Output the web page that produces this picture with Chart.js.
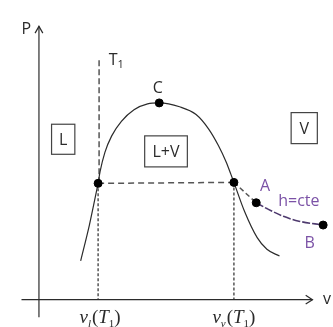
<!DOCTYPE html>
<html>
<head>
<meta charset="utf-8">
<script src="https://cdn.jsdelivr.net/npm/chart.js@4.4.1/dist/chart.umd.min.js"></script>
<style>
  html, body { margin: 0; padding: 0; background: #fff; }
  #wrap { width: 333px; height: 327px; }
</style>
</head>
<body>
<div id="wrap"><canvas id="c" width="333" height="327"></canvas></div>
<script>
// --- data (v, P in arbitrary diagram units) ---
const liqV  = [4.3, 5.2, 6.1];               // compressed-liquid branch below the dome
const liqP  = [4.0, 7.7, 12.0];
const domeV = [6.1, 6.3, 6.8, 7.5, 8.5, 9.8, 11.2, 12.4, 14.5, 16.2, 17.5, 18.5, 19.3, 19.8, 20.1];
const domeP = [12.0, 13.2, 15.2, 16.9, 18.4, 19.6, 20.2, 20.3, 19.9, 19.1, 17.6, 15.9, 14.2, 12.9, 12.1];
const vapV  = [20.1, 21.2, 22.5, 23.5, 24.8]; // isotherm continuing in vapour region
const vapP  = [12.1, 9.1, 6.4, 5.2, 4.5];
const tieV  = [6.1, 20.1];                    // liquid-vapour tie line at T1
const tieP  = [12.0, 12.1];
const t1V   = [6.2, 6.2];                     // T1 isotherm, dashed part
const t1P   = [24.7, 12.0];
const dropLV = [6.1, 6.1];
const dropLP = [12.0, 0];
const dropVV = [20.1, 20.1];
const dropVP = [12.1, 0];
const toAV  = [20.1, 22.4];
const toAP  = [12.1, 10.0];
const hV    = [22.4, 23.5, 25.2, 26.8, 29.3]; // h = cte line A -> B
const hP    = [10.0, 9.4, 8.6, 8.1, 7.7];
const ptV   = [6.1, 12.4, 20.1, 22.4, 29.3];  // marked states
const ptP   = [12.0, 20.3, 12.1, 10.0, 7.7];

const xy = (vs, ps) => vs.map((v, i) => ({ x: v, y: ps[i] }));

const INK = '#2b2b2b';
const DASH = '#555';
const PURPLE = '#7b52a6';
const PURPLE_LINE = '#4e3a6e';
const SANS = '"Open Sans", "Noto Sans", sans-serif';

// region boxes and free labels (diagram units)
const boxes = [
  { text: 'L',   v0: 1.3,  v1: 3.7,  p0: 15.0, p1: 18.1 },
  { text: 'L+V', v0: 10.9, v1: 15.3, p0: 13.7, p1: 16.9 },
  { text: 'V',   v0: 26.0, v1: 28.7, p0: 16.1, p1: 19.3 }
];
const labels = [
  { text: 'P',     v: -1.3, p: 27.9, color: INK },
  { text: 'C',     v: 12.25, p: 21.8, color: INK },
  { text: 'A',     v: 23.3, p: 11.7, color: PURPLE },
  { text: 'h=cte', v: 26.8, p: 10.1, color: PURPLE },
  { text: 'B',     v: 27.9, p: 5.8,  color: PURPLE },
  { text: 'v',     v: 29.7, p: 0,    color: INK }
];

function line(vs, ps, color, dash, width) {
  return {
    data: xy(vs, ps), showLine: true, borderColor: color, borderWidth: width || 1.2,
    borderDash: dash || [], pointRadius: 0, fill: false, clip: false
  };
}

function drawParts(ctx, cx, baseY, parts) {
  let w = 0;
  parts.forEach(p => { ctx.font = p.f; w += ctx.measureText(p.t).width + (p.gap || 0); });
  let x = cx - w / 2;
  parts.forEach(p => {
    ctx.font = p.f;
    ctx.fillText(p.t, x, baseY + (p.dy || 0));
    x += ctx.measureText(p.t).width + (p.gap || 0);
  });
}

const annot = {
  id: 'annot',
  afterDatasetsDraw(chart) {
    const { ctx, scales: { x, y } } = chart;
    ctx.save();
    ctx.textAlign = 'center';
    ctx.textBaseline = 'middle';
    boxes.forEach(b => {
      const l = x.getPixelForValue(b.v0), r = x.getPixelForValue(b.v1);
      const t = y.getPixelForValue(b.p1), bt = y.getPixelForValue(b.p0);
      ctx.strokeStyle = '#444';
      ctx.lineWidth = 1.2;
      ctx.strokeRect(l, t, r - l, bt - t);
      ctx.fillStyle = INK;
      ctx.font = '16px ' + SANS;
      ctx.fillText(b.text, (l + r) / 2, (t + bt) / 2 + 1);
    });
    labels.forEach(lb => {
      ctx.fillStyle = lb.color;
      ctx.font = '16px ' + SANS;
      ctx.fillText(lb.text, x.getPixelForValue(lb.v), y.getPixelForValue(lb.p));
    });
    // T1 label
    ctx.textAlign = 'left';
    ctx.fillStyle = INK;
    const tx = x.getPixelForValue(7.2), ty = y.getPixelForValue(24.7);
    ctx.font = '16px ' + SANS;
    ctx.fillText('T', tx, ty);
    const tw = ctx.measureText('T').width;
    ctx.font = '11px ' + SANS;
    ctx.fillText('1', tx + tw, ty + 5);
    // specific volume labels under the axis
    ctx.textBaseline = 'alphabetic';
    const serifI = 'italic 19px "Liberation Serif", serif';
    const serif = '19px "Liberation Serif", serif';
    const subI = 'italic 11px "Liberation Serif", serif';
    const sub = '11px "Liberation Serif", serif';
    const by = y.getPixelForValue(-2.4);
    drawParts(ctx, x.getPixelForValue(6.3), by, [
      { t: 'v', f: serifI }, { t: 'l', f: subI, dy: 4, gap: 1 }, { t: '(', f: serif },
      { t: 'T', f: serifI }, { t: '1', f: sub, dy: 4 }, { t: ')', f: serif }
    ]);
    drawParts(ctx, x.getPixelForValue(20.1), by, [
      { t: 'v', f: serifI }, { t: 'v', f: subI, dy: 4, gap: 1 }, { t: '(', f: serif },
      { t: 'T', f: serifI }, { t: '1', f: sub, dy: 4 }, { t: ')', f: serif }
    ]);
    ctx.restore();
  }
};

new Chart(document.getElementById('c'), {
  type: 'scatter',
  data: {
    datasets: [
      { data: xy(ptV, ptP), pointRadius: 4, pointBackgroundColor: '#000', pointBorderColor: '#000', clip: false },
      line([-1.8, 28.2], [0, 0], INK, [], 1.2),
      line([27.5, 28.2, 27.5], [0.45, 0, -0.45], INK, [], 1.2),
      line([0, 0], [-1.8, 28.2], INK, [], 1.2),
      line([-0.4, 0, 0.4], [27.5, 28.2, 27.5], INK, [], 1.2),
      Object.assign(line(liqV, liqP, INK), { tension: 0.3 }),
      Object.assign(line(domeV, domeP, INK), { cubicInterpolationMode: 'monotone' }),
      Object.assign(line(vapV, vapP, INK), { cubicInterpolationMode: 'monotone' }),
      line(tieV, tieP, DASH, [6, 4], 1.5),
      line(t1V, t1P, DASH, [6, 3], 1.5),
      line(dropLV, dropLP, DASH, [3, 2], 1.5),
      line(dropVV, dropVP, DASH, [3, 2], 1.5),
      line(toAV, toAP, DASH, [5, 3], 1.5),
      Object.assign(line(hV, hP, PURPLE_LINE, [8, 2], 1.6), { cubicInterpolationMode: 'monotone' })
    ]
  },
  options: {
    responsive: false,
    animation: false,
    layout: { padding: 0 },
    plugins: { legend: { display: false }, tooltip: { enabled: false } },
    scales: {
      x: { type: 'linear', min: -3.5, max: 29.8, display: false },
      y: { type: 'linear', min: -2.3, max: 30.4, display: false }
    }
  },
  plugins: [annot]
});
</script>
</body>
</html>
